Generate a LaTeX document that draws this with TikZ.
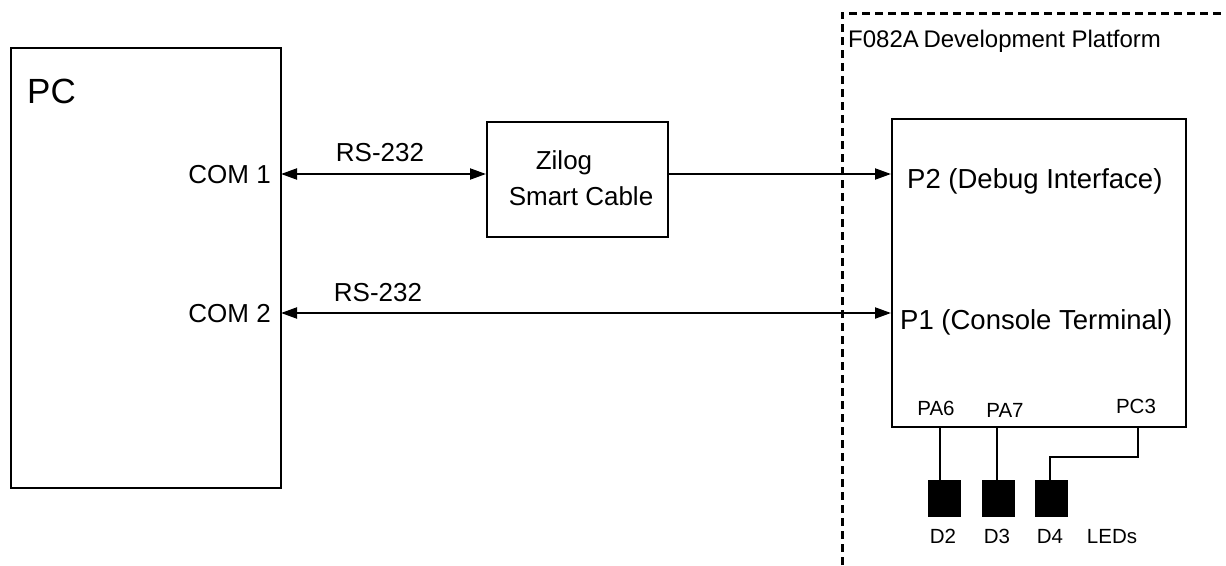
\documentclass[tikz,border=0pt]{standalone}
\usepackage{fontspec}
\setmainfont{Liberation Sans}
\usetikzlibrary{arrows.meta}
\tikzset{
  box/.style={draw, line width=2pt, inner sep=0pt},
  link/.style={line width=2pt, {Triangle[length=16pt,width=11pt]}-{Triangle[length=16pt,width=11pt]}},
  onelink/.style={line width=2pt, -{Triangle[length=16pt,width=11pt]}},
  wire/.style={line width=1.2pt},
  led/.style={fill=black, inner sep=0pt, minimum width=33pt, minimum height=37pt},
  big/.style={font=\fontsize{26}{30}\selectfont, inner sep=0pt},
  port/.style={font=\fontsize{27.5}{32}\selectfont, inner sep=0pt},
  small/.style={font=\fontsize{20.5}{24}\selectfont, inner sep=0pt},
  boundary/.style={line width=3pt, dash pattern=on 8pt off 5pt},
}
\begin{document}
\begin{tikzpicture}[x=1pt,y=-1pt]
\useasboundingbox (0,0) rectangle (1226,565);

% development platform boundary
\draw[boundary] (842,565) -- (842,13) -- (1226,13);
\node[font=\fontsize{24}{28}\selectfont, inner sep=0pt, anchor=base west] (plat) at (848,47) {F082A\hspace{-2pt} Development Platform};

% PC
\node[box, minimum width=270pt, minimum height=440pt] (pc) at (146,268) {};
\node[font=\fontsize{35}{40}\selectfont, inner sep=0pt, anchor=base west] (pclbl) at (27,103) {PC};
\node[big, anchor=base east] (com1) at (271,183) {COM 1};
\node[big, anchor=base east] (com2) at (271,322) {COM 2};

% smart cable
\node[box, minimum width=181pt, minimum height=115pt] (zil) at (577.5,179.5) {};
\node[big, anchor=base] (zl1) at (564,169) {Zilog};
\node[big, anchor=base] (zl2) at (581,205) {Smart Cable};

% target board
\node[box, minimum width=294pt, minimum height=308pt] (brd) at (1039,273) {};
\node[port, anchor=base west] (p2) at (907,188) {P2 (Debug Interface)};
\node[port, anchor=base west] (p1) at (900,329) {P1 (Console Terminal)};
\node[small, anchor=base] (pa6) at (936,415) {PA6};
\node[small, anchor=base] (pa7) at (1005,417) {PA7};
\node[small, anchor=base] (pc3) at (1136,413) {PC3};

% serial links
\coordinate (c1) at (281,174);
\coordinate (c2) at (281,313);
\draw[link] (c1) -- (c1 -| zil.west);
\draw[onelink] (zil.east |- c1) -- (c1 -| brd.west);
\draw[link] (c2) -- (c2 -| brd.west);
\node[big, anchor=base] (rs1) at (380,161) {RS-232};
\node[big, anchor=base] (rs2) at (378,301) {RS-232};

% LEDs
\node[led] (d2) at (944.5,498.5) {};
\node[led] (d3) at (998.5,498.5) {};
\node[led] (d4) at (1051.5,498.5) {};
\draw[wire] (d2.north -| 940,0) -- (940,427);
\draw[wire] (d3.north -| 997,0) -- (997,427);
\draw[wire] (1138,427) -- (1138,457) -- (1050,457) -- (1050,480);
\node[small, anchor=base] (d2l) at (943,543) {D2};
\node[small, anchor=base] (d3l) at (997,543) {D3};
\node[small, anchor=base] (d4l) at (1050,543) {D4};
\node[small, anchor=base] (leds) at (1112,543) {LEDs};
\end{tikzpicture}
\end{document}
